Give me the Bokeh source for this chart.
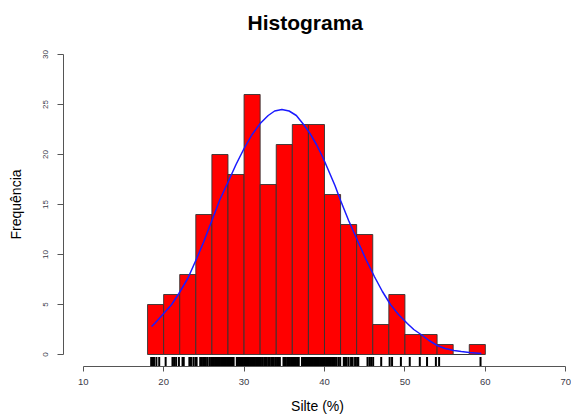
from bokeh.plotting import figure
from bokeh.models import Range1d, Title, FixedTicker
from bokeh.embed import file_html
from bokeh.resources import INLINE

# --- data ---
bin_edges = [18, 20, 22, 24, 26, 28, 30, 32, 34, 36, 38, 40, 42, 44, 46, 48, 50, 52, 54, 56, 58, 60]
counts = [5, 6, 8, 14, 20, 18, 26, 17, 21, 23, 23, 16, 13, 12, 3, 6, 2, 2, 1, 0, 1]

curve_x = [18.5, 19.0, 20.0, 21.0, 21.9, 23.0, 24.0, 25.0, 26.0, 27.0, 28.1, 29.0, 30.0, 31.0, 32.0,
           33.0, 33.8, 34.7, 35.6, 36.5, 37.4, 38.2, 39.0, 39.8, 40.5, 41.3, 42.0, 43.0, 44.1, 45.1,
           46.2, 47.2, 48.2, 49.2, 50.3, 51.1, 52.0, 53.0, 54.0, 55.0, 56.1, 57.0, 58.0, 59.5]
curve_y = [2.8, 3.2, 4.1, 5.0, 6.1, 7.6, 9.4, 11.3, 13.4, 15.5, 17.4, 19.0, 20.6, 22.0, 23.1,
           23.9, 24.35, 24.5, 24.35, 23.9, 23.0, 22.1, 21.0, 19.7, 18.4, 16.9, 15.4, 13.4, 11.4, 9.6,
           7.8, 6.3, 5.0, 4.0, 3.1, 2.5, 2.0, 1.4, 0.9, 0.6, 0.4, 0.3, 0.2, 0.1]

rug_x = [18.45, 18.6, 18.8, 19.1, 19.45,
         20.25, 21.1, 21.3, 21.55, 21.9,
         22.35, 22.5, 23.2, 23.4, 23.7, 23.95,
         24.1, 24.55, 24.7, 24.9, 25.1, 25.25, 25.45, 25.7, 25.9,
         26.05, 26.25, 26.4, 26.55, 26.7, 26.85, 27.0, 27.15, 27.3, 27.45, 27.6, 27.75, 27.9,
         28.1, 28.25, 28.4, 28.55, 28.7, 29.1, 29.25, 29.4, 29.55, 29.7, 29.85,
         30.0, 30.15, 30.3, 30.45, 30.6, 30.75, 30.9, 31.05, 31.2, 31.35, 31.5, 31.65, 31.8, 31.95,
         32.1, 32.3, 32.5, 32.65, 32.8, 33.0, 33.2, 33.4, 33.55, 33.7, 33.9,
         34.1, 34.3, 34.45, 34.9, 35.05, 35.2, 35.4, 35.55, 35.7, 35.85,
         36.0, 36.15, 36.3, 36.45, 36.6, 36.8, 37.2, 37.35, 37.5, 37.65, 37.8, 37.95,
         38.1, 38.25, 38.4, 38.55, 38.7, 38.85, 39.0, 39.15, 39.3, 39.45, 39.6, 39.75, 39.9,
         40.05, 40.2, 40.35, 40.5, 40.65, 40.8, 40.95, 41.1, 41.3, 41.5, 41.75, 41.95,
         42.4, 42.55, 42.75, 43.0, 43.3, 43.5, 43.8, 44.05, 44.2,
         45.35, 45.6, 45.8, 46.05,
         47.05, 48.1, 48.4, 49.5, 50.6, 51.85, 52.75, 53.85, 54.25, 59.4]

x_ticks = [10, 20, 30, 40, 50, 60, 70]
y_ticks = [0, 5, 10, 15, 20, 25, 30]

title_text = "Histograma"
xlabel_text = "Silte (%)"
ylabel_text = "Frequência"

FONT = "Liberation Sans"

p = figure(width=571, height=416, output_backend="svg", toolbar_location=None,
           x_range=Range1d(7.55, 70.71), y_range=Range1d(-1.2, 31.2),
           min_border_left=63, min_border_right=0, min_border_top=42, min_border_bottom=50)
p.outline_line_color = None
p.xgrid.visible = False
p.ygrid.visible = False
p.background_fill_color = "white"

# bars
p.quad(left=bin_edges[:-1], right=bin_edges[1:], bottom=0, top=counts,
       fill_color="#FF0000", line_color="#333333", line_width=0.9)

# normal curve
p.line(curve_x, curve_y, line_color="#1a1aff", line_width=1.5)

# rug
p.segment(x0=rug_x, y0=[-1.2] * len(rug_x), x1=rug_x, y1=[-0.25] * len(rug_x),
          line_color="black", line_width=2)

# axes
for ax, ticks, bnd in ((p.xaxis[0], x_ticks, (10, 70)), (p.yaxis[0], y_ticks, (0, 30))):
    ax.ticker = FixedTicker(ticks=ticks)
    ax.bounds = bnd
    ax.axis_line_color = "#555555"
    ax.major_tick_line_color = "#555555"
    ax.minor_tick_line_color = None
    ax.major_tick_in = 0
    ax.major_label_text_font = FONT
    ax.major_label_text_color = "#3a3a48"
    ax.axis_label_text_font = FONT
    ax.axis_label_text_font_size = "14px"
    ax.axis_label_text_font_style = "normal"
    ax.axis_label_text_color = "black"

p.xaxis.major_tick_out = 5
p.xaxis.major_label_standoff = 7
p.xaxis.major_label_text_font_size = "9.5px"
p.xaxis.axis_label = xlabel_text
p.xaxis.axis_label_standoff = 10

p.yaxis.major_tick_out = 6
p.yaxis.major_label_standoff = 10
p.yaxis.major_label_orientation = "vertical"
p.yaxis.major_label_text_font_size = "8px"
p.yaxis.axis_label = ylabel_text
p.yaxis.axis_label_standoff = 16

# title
p.title = Title(text=title_text, text_font=FONT, text_font_size="21px", text_font_style="bold",
                align="left", offset=184, standoff=14, vertical_align="top", text_color="black")

open("out.html", "w").write(file_html(p, INLINE))
